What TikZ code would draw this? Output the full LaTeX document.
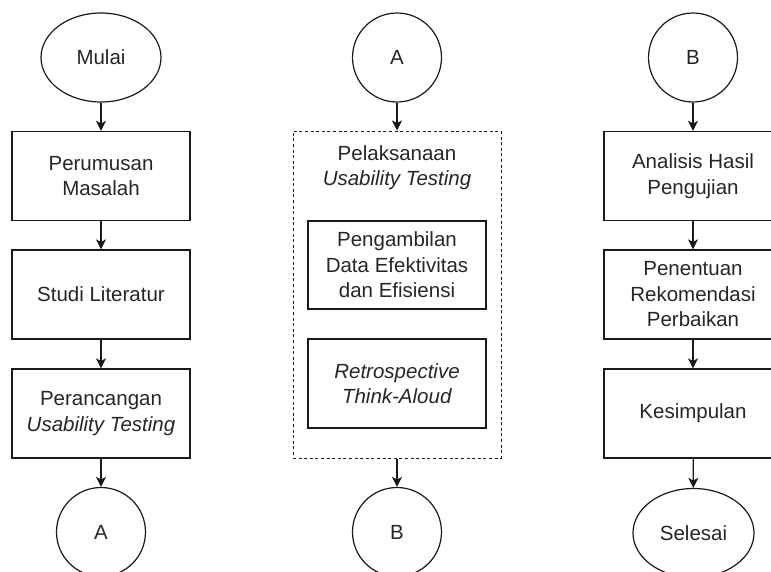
\documentclass[tikz,border=0pt]{standalone}
\usepackage{fontspec}
\setmainfont{Liberation Sans}
\usetikzlibrary{shapes.geometric,arrows.meta}
\begin{document}
\begin{tikzpicture}[x=1pt,y=-1pt,
  every node/.style={font=\fontsize{20.5}{25.5}\selectfont, text=black!85, align=center, inner sep=0pt},
  procbox/.style={draw=black!90, line width=1.2pt, rectangle, minimum width=178pt, minimum height=89pt},
  term/.style={draw=black!90, line width=1.2pt, ellipse, minimum width=120pt, minimum height=89pt},
  conn/.style={draw=black!90, line width=1.2pt, circle, minimum size=89pt},
  groupbox/.style={draw=black!90, line width=1pt, dash pattern=on 3pt off 2.6pt, rectangle, minimum width=208pt, minimum height=327pt},
  arr/.style={draw=black!90, line width=1.2pt, -{Stealth[length=10pt,width=10pt,inset=2.5pt]}}
]
\useasboundingbox (0,0) rectangle (771,571);
\clip (0,0) rectangle (771,571);
% left column
\node[term] (mulai) at (101,57.5) {Mulai};
\node[procbox] (p1) at (101,176) {Perumusan\\Masalah};
\node[procbox] (p2) at (101,294.5) {Studi Literatur};
\node[procbox] (p3) at (101,413.5) {Perancangan\\\textit{Usability Testing}};
\node[conn] (ca1) at (101,532) {A};
% middle column
\node[conn] (ca2) at (397,57.5) {A};
\node[groupbox] (grp) at (397,294.5) {};
\node (title) at (397,167.5) {Pelaksanaan\\\textit{Usability Testing}};
\node[procbox, minimum height=88pt] (in1) at (397,265) {Pengambilan\\Data Efektivitas\\dan Efisiensi};
\node[procbox] (in2) at (397,383.5) {\textit{Retrospective}\\\textit{Think-Aloud}};
\node[conn] (cb1) at (397,532) {B};
% right column
\node[conn] (cb2) at (693,57.5) {B};
\node[procbox] (r1) at (693,176) {Analisis Hasil\\Pengujian};
\node[procbox] (r2) at (693,294.5) {Penentuan\\Rekomendasi\\Perbaikan};
\node[procbox] (r3) at (693,413.5) {Kesimpulan};
\node[term, minimum width=121pt] (selesai) at (693.5,533) {Selesai};
% arrows
\draw[arr] (mulai) -- (p1);
\draw[arr] (p1) -- (p2);
\draw[arr] (p2) -- (p3);
\draw[arr] (p3) -- (ca1);
\draw[arr] (ca2) -- (grp);
\draw[arr] (grp) -- (cb1);
\draw[arr] (cb2) -- (r1);
\draw[arr] (r1) -- (r2);
\draw[arr] (r2) -- (r3);
\draw[arr] (r3) -- (selesai);
\end{tikzpicture}
\end{document}
